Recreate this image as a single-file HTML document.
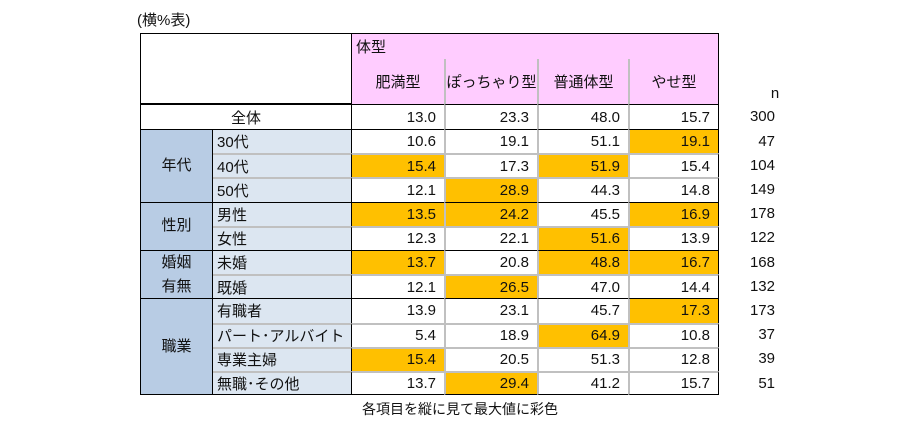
<!DOCTYPE html>
<html><head><meta charset="utf-8"><style>
body{margin:0;width:900px;height:435px;background:#fff;position:relative;overflow:hidden;font-family:"Liberation Sans","Noto Sans CJK JP",sans-serif;color:#111;}
.c{position:absolute;box-sizing:border-box;font-size:15px;display:flex;align-items:center;white-space:nowrap;}
.r{justify-content:flex-end;padding-right:8px;}
.m{justify-content:center;}
.l{padding-left:4px;}
</style></head><body>
<div class="c" style="left:137px;top:8px;height:22px;font-size:15px">(横%表)</div>
<div id="t"></div>
<div class="c m" style="left:300px;top:398px;width:320px;height:22px;font-size:14px">各項目を縦に見て最大値に彩色</div>
<script>
const columns=["肥満型","ぽっちゃり型","普通体型","やせ型"];
const groups=[["年代",3],["性別",2],["婚姻<br>有無",2],["職業",4]];
const rowLabels=["30代","40代","50代","男性","女性","未婚","既婚","有職者","パート･アルバイト","専業主婦","無職･その他"];
const totalValues=[13.0,23.3,48.0,15.7];
const totalN=300;
const values=[[10.6,19.1,51.1,19.1],[15.4,17.3,51.9,15.4],[12.1,28.9,44.3,14.8],[13.5,24.2,45.5,16.9],[12.3,22.1,51.6,13.9],[13.7,20.8,48.8,16.7],[12.1,26.5,47.0,14.4],[13.9,23.1,45.7,17.3],[5.4,18.9,64.9,10.8],[15.4,20.5,51.3,12.8],[13.7,29.4,41.2,15.7]];
const nValues=[47,104,149,178,122,168,132,173,37,39,51];
const colX=[351,444,537,628,719];
const L=140,G=213,RH=24.2,Y0=129;
const t=document.getElementById('t');
function cell(x,y,w,h,txt,cls,st){const d=document.createElement('div');d.className='c '+cls;d.style.cssText=`left:${x}px;top:${y}px;width:${w}px;height:${h}px;`+(st||'');d.innerHTML=txt;t.appendChild(d);return d;}
let d;
d=cell(L,33,colX[0]-L,71,'','', 'border:1px solid #000;border-right:none;');


d=cell(colX[0],33,colX[4]-colX[0],26,'体型','l','background:#ffccff;border:1px solid #000;border-bottom:none;');


columns.forEach((c,i)=>{d=cell(colX[i],59,colX[i+1]-colX[i],45,c,'m','background:#ffccff;border-left:'+(i?'2px solid #c0c0c0':'1px solid #000')+';'+(i==3?'border-right:1px solid #000;':''));

});
d=cell(G+60,33,60,71,'n','m','padding-top:50px;');
d.style.left='745px';


// total row
d=cell(L,104,colX[0]-L,25,'全体','m','border:1px solid #000;border-right:none;border-bottom:none;');


const maxes=columns.map((_,j)=>{let m=-1;values.forEach(r=>{});return m;});
totalValues.forEach((v,j)=>{d=cell(colX[j],104,colX[j+1]-colX[j],25,v.toFixed(1),'r','border-top:1px solid #000;border-left:'+(j?'2px solid #c0c0c0':'1px solid #000')+';'+(j==3?'border-right:1px solid #000;':''));

});
d=cell(730,104,50,25,String(totalN),'r','padding-right:5px;');


let ri=0;
groups.forEach(([g,cnt])=>{
  const gy=Y0+ri*RH;
  d=cell(L,gy,G-L,cnt*RH,g,'m','background:#b8cce4;border-top:1px solid #000;border-left:1px solid #000;border-right:1px solid #000;text-align:center;line-height:24px;'+(ri+cnt==11?'border-bottom:1px solid #000;':''));
  
  
  // group max
  const gmax=columns.map((_,j)=>Math.max(...values.slice(ri,ri+cnt).map(r=>r[j])));
  for(let k=0;k<cnt;k++){
    const i=ri+k,y=Y0+i*RH;
    const top=k==0?'1px solid #000':'2px solid #c0c0c0';
    const bot=i==10?'border-bottom:1px solid #000;':'';
    d=cell(G,y,colX[0]-G,RH,rowLabels[i],'l','background:#dce6f1;border-top:'+top+';'+bot);
    
    
    values[i].forEach((v,j)=>{
      const hi=v===gmax[j];
      d=cell(colX[j],y,colX[j+1]-colX[j],RH,v.toFixed(1),'r','border-top:'+top+';border-left:'+(j?'2px solid #c0c0c0':'1px solid #000')+';'+(j==3?'border-right:1px solid #000;':'')+bot+(hi?'background:#ffc000;':''));
      
      
    });
    d=cell(730,y,50,RH,String(nValues[i]),'r','padding-right:5px;');
    
    
  }
  ri+=cnt;
});
</script>
</body></html>
